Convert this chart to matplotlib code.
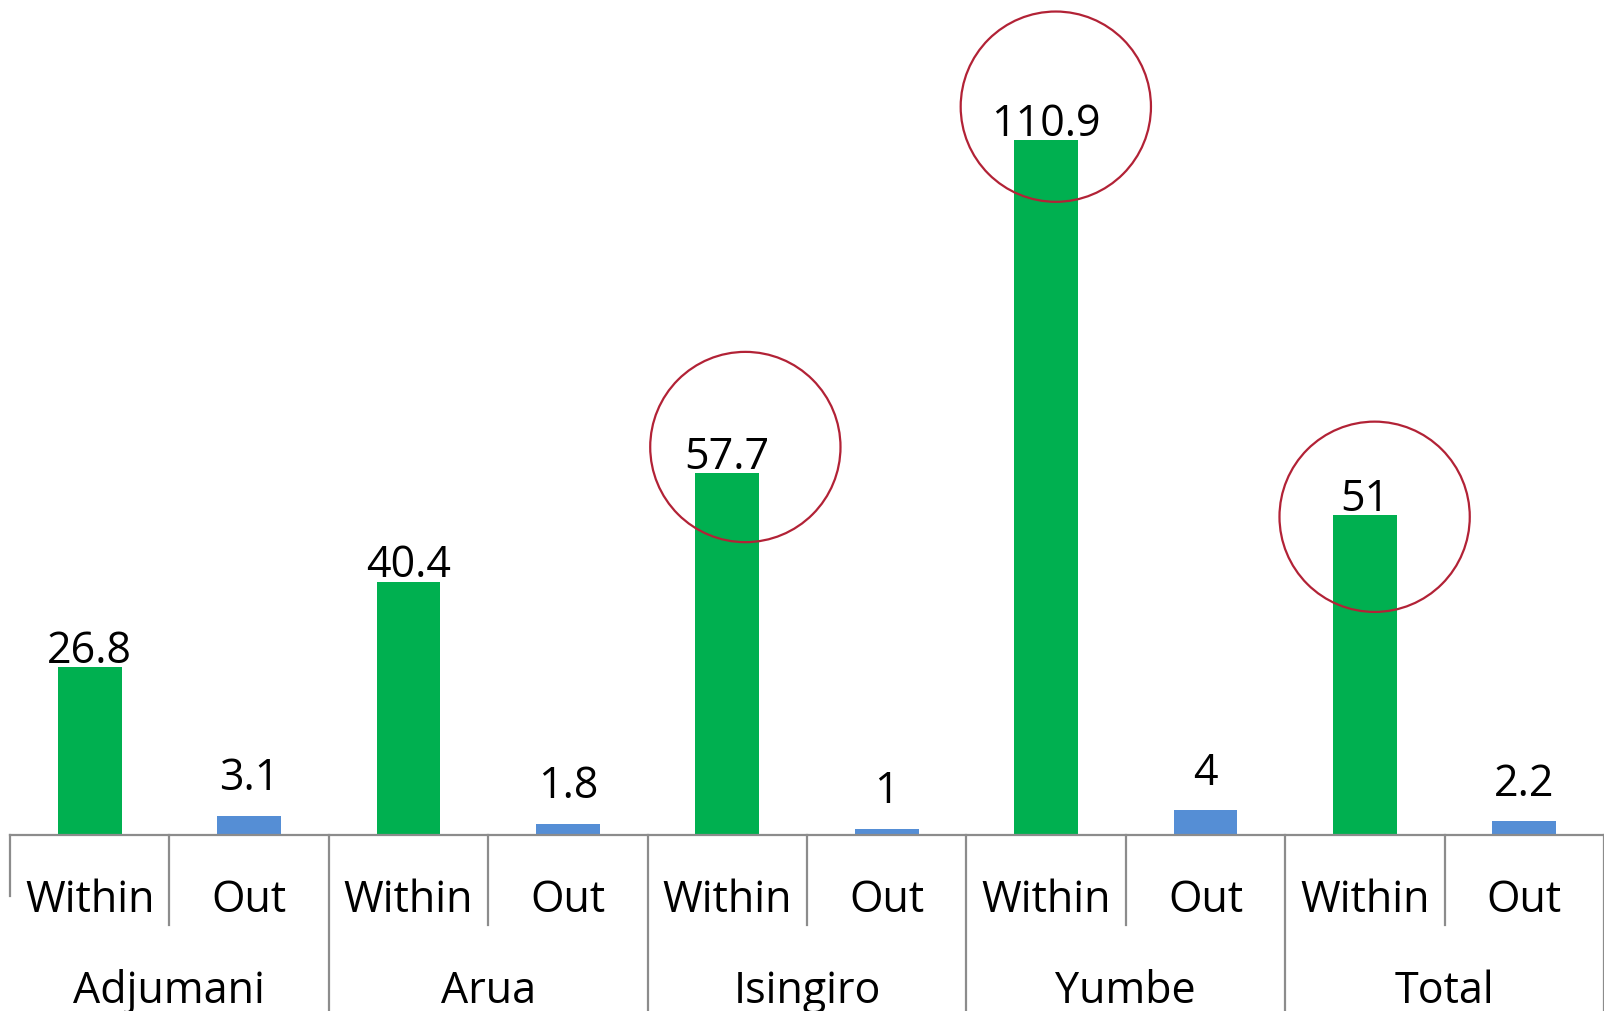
import matplotlib.pyplot as plt
import matplotlib.transforms as mtransforms

# data
districts = ["Adjumani", "Arua", "Isingiro", "Yumbe", "Total"]
kinds = ["Within", "Out"]
within_vals = [26.8, 40.4, 57.7, 110.9, 51]
out_vals = [3.1, 1.8, 1, 4, 2.2]
circled = ["Isingiro", "Yumbe", "Total"]

plt.rcParams['font.family'] = ['Open Sans', 'DejaVu Sans']

green = "#00B050"
blue = "#558ED5"
grey = "#8C8C8C"
fs = 31

fig = plt.figure(figsize=(16.04, 10.12), dpi=100)
ax = fig.add_axes([10 / 1604, 176 / 1012, 1594 / 1604, 836 / 1012])

labels, values, colors = [], [], []
for i, d in enumerate(districts):
    labels += kinds
    values += [within_vals[i], out_vals[i]]
    colors += [green, blue]
xs = list(range(len(values)))

ax.bar(xs, values, width=0.4, color=colors)
ax.set_xlim(-0.5, len(values) - 0.5)
ax.set_ylim(0, 133.4)

# value labels
for x, v, c in zip(xs, values, colors):
    off = 12 if c == green else 27
    ax.annotate(f"{v:g}", (x, v), xytext=(0, off), textcoords="offset points",
                ha="center", va="center", fontsize=fs)

# red circles round some of the within bars (hand drawn, a bit off centre)
circle_shift = {"Isingiro": (13, 19), "Yumbe": (7, 24), "Total": (7, -1)}
for d in circled:
    i = districts.index(d)
    dx, dy = circle_shift[d]
    tr = mtransforms.offset_copy(ax.transData, fig=fig, x=dx, y=dy, units="points")
    ax.scatter([2 * i], [within_vals[i]], s=137 ** 2, facecolors="none",
               edgecolors="#B22236", linewidths=1.6, clip_on=False, zorder=5,
               transform=tr)

for s in ["top", "right", "left"]:
    ax.spines[s].set_visible(False)
ax.spines["bottom"].set_color(grey)
ax.spines["bottom"].set_linewidth(1.6)
ax.set_xticks([])
ax.set_yticks([])

# two-level category axis
trans = mtransforms.blended_transform_factory(ax.transData, ax.transAxes)
for x, lab in zip(xs, labels):
    ax.text(x, -0.0775, lab, transform=trans, ha="center", va="center", fontsize=fs)
for i, d in enumerate(districts):
    ax.text(2 * i + 0.5, -0.186, d, transform=trans, ha="center", va="center", fontsize=fs)

for k in range(len(values) + 1):
    xb = k - 0.5
    if k == 0:
        y_end = -0.0735
    elif k % 2 == 1:
        y_end = -0.108
    else:
        y_end = -0.22
    ax.plot([xb, xb], [0, y_end], transform=trans, color=grey, lw=1.6, clip_on=False)

fig.savefig("out.png", dpi=100)
